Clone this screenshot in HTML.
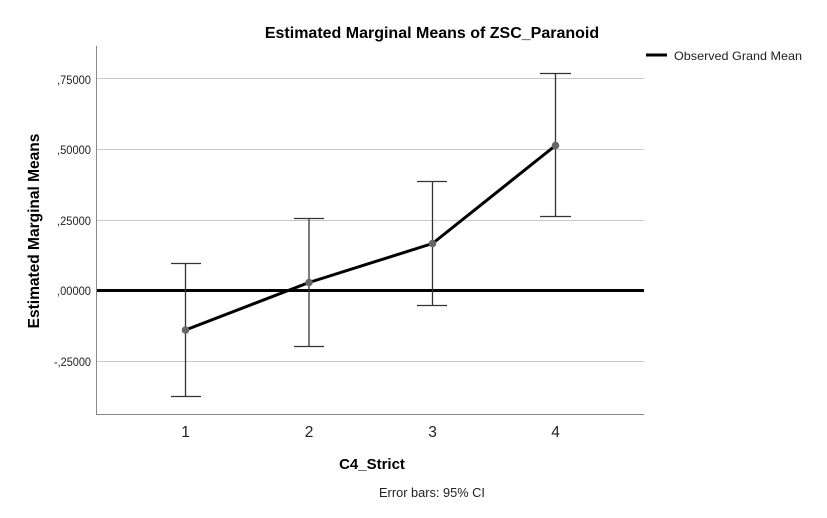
<!DOCTYPE html>
<html><head><meta charset="utf-8"><style>
html,body{margin:0;padding:0;background:#fff;}
svg{display:block;font-family:"Liberation Sans",Arial,sans-serif;}
</style></head><body>
<svg width="827" height="518" viewBox="0 0 827 518" xmlns="http://www.w3.org/2000/svg">
<rect width="827" height="518" fill="#fff"/>
<!-- gridlines -->
<g stroke="#c8c8c8" stroke-width="1">
<line x1="97" y1="78.5" x2="644" y2="78.5"/>
<line x1="97" y1="149.5" x2="644" y2="149.5"/>
<line x1="97" y1="220.5" x2="644" y2="220.5"/>
<line x1="97" y1="361.5" x2="644" y2="361.5"/>
</g>
<!-- axes -->
<line x1="96.5" y1="46" x2="96.5" y2="415" stroke="#888" stroke-width="1"/>
<line x1="96" y1="414.5" x2="644" y2="414.5" stroke="#888" stroke-width="1"/>
<!-- grand mean -->
<line x1="97" y1="290.5" x2="644" y2="290.5" stroke="#000" stroke-width="3"/>
<!-- error bars -->
<g stroke="#333" stroke-width="1.3" fill="none">
<line x1="185.5" y1="263" x2="185.5" y2="396"/>
<line x1="171" y1="263.5" x2="201" y2="263.5"/>
<line x1="171" y1="396.5" x2="201" y2="396.5"/>
<line x1="309" y1="218" x2="309" y2="347"/>
<line x1="294" y1="218.5" x2="324" y2="218.5"/>
<line x1="294" y1="346.5" x2="324" y2="346.5"/>
<line x1="432.5" y1="181" x2="432.5" y2="306"/>
<line x1="417" y1="181.5" x2="447" y2="181.5"/>
<line x1="417" y1="305.5" x2="447" y2="305.5"/>
<line x1="555.5" y1="73" x2="555.5" y2="217"/>
<line x1="540" y1="73.5" x2="571" y2="73.5"/>
<line x1="540" y1="216.5" x2="571" y2="216.5"/>
</g>
<!-- means line -->
<polyline points="185.5,330 309,282.5 432.5,243.5 555.5,145.5" fill="none" stroke="#000" stroke-width="3" stroke-linejoin="round"/>
<g fill="#666">
<circle cx="185.5" cy="330" r="3.8"/>
<circle cx="309" cy="282.5" r="3.8"/>
<circle cx="432.5" cy="243.5" r="3.8"/>
<circle cx="555.5" cy="145.5" r="3.8"/>
</g>
<!-- y tick labels -->
<g font-size="11.5" fill="#222" text-anchor="end">
<text x="91" y="84" textLength="34" lengthAdjust="spacingAndGlyphs">,75000</text>
<text x="91" y="154" textLength="34" lengthAdjust="spacingAndGlyphs">,50000</text>
<text x="91" y="225" textLength="34" lengthAdjust="spacingAndGlyphs">,25000</text>
<text x="91" y="295" textLength="34" lengthAdjust="spacingAndGlyphs">,00000</text>
<text x="91" y="366" textLength="37" lengthAdjust="spacingAndGlyphs">-,25000</text>
</g>
<!-- x tick labels -->
<g font-size="15.5" fill="#222" text-anchor="middle">
<text x="185.5" y="437">1</text>
<text x="309" y="437">2</text>
<text x="432.5" y="437">3</text>
<text x="555.5" y="437">4</text>
</g>
<!-- titles -->
<text x="432" y="38" font-size="16" font-weight="bold" text-anchor="middle" fill="#000">Estimated Marginal Means of ZSC_Paranoid</text>
<text x="372" y="469" font-size="15" font-weight="bold" text-anchor="middle" fill="#000">C4_Strict</text>
<text transform="translate(39,231) rotate(-90)" font-size="15.5" font-weight="bold" text-anchor="middle" fill="#000">Estimated Marginal Means</text>
<text x="432" y="497" font-size="12.8" text-anchor="middle" fill="#222">Error bars: 95% CI</text>
<!-- legend -->
<line x1="646" y1="55" x2="667" y2="55" stroke="#000" stroke-width="3"/>
<text x="674" y="60" font-size="12" fill="#222" textLength="128" lengthAdjust="spacingAndGlyphs">Observed Grand Mean</text>
</svg>
</body></html>
